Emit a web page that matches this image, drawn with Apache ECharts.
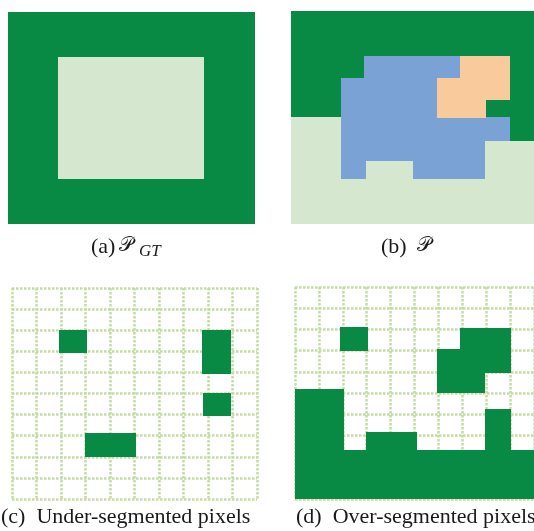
<!DOCTYPE html>
<html><head><meta charset="utf-8">
<script src="https://cdn.jsdelivr.net/npm/echarts@6/dist/echarts.min.js"></script>
<style>html,body{margin:0;padding:0;background:#fff}#c{width:534px;height:531px}</style>
</head><body><div id="c"></div>
<script>
// Region classes and their colours
const classNames = ['background', 'object', 'segment1', 'segment2', 'error'];
const classColors = ['#088a45', '#d5e8cf', '#7aa2d4', '#f8ca9c', '#088a45'];

// Each rectangle: [x0, y0, x1, y1, class] in grid-cell units (10 x 10 cells, y counted downward)
const panelA = [
  [0, 0, 10, 10, 'background'],
  [2.01, 2.12, 7.93, 7.86, 'object']
];
const panelB = [
  [0, 0, 10, 10, 'background'],
  [0, 4.99, 2.07, 10, 'object'],
  [0, 7.89, 10, 10, 'object'],
  [7.97, 6.12, 10, 10, 'object'],
  [3.01, 2.11, 6.97, 3.16, 'segment1'],
  [2.06, 3.13, 6.02, 7.89, 'segment1'],
  [6.02, 5.0, 7.97, 7.89, 'segment1'],
  [7.97, 4.99, 9.02, 6.12, 'segment1'],
  [3.08, 7.06, 5.0, 7.89, 'object'],
  [6.97, 2.13, 9.02, 3.16, 'segment2'],
  [6.02, 3.16, 9.02, 4.18, 'segment2'],
  [6.02, 4.18, 8.04, 5.01, 'segment2']
];
const panelC = [
  [1.91, 2.01, 3.07, 3.09, 'error'],
  [7.76, 2.01, 8.92, 4.07, 'error'],
  [7.8, 4.96, 8.94, 6.05, 'error'],
  [2.96, 6.89, 5.06, 8.0, 'error']
];
const panelD = [
  [1.9, 1.89, 3.06, 3.04, 'error'],
  [6.91, 1.93, 9.05, 4.06, 'error'],
  [5.96, 2.91, 6.95, 5.0, 'error'],
  [6.9, 4.0, 7.96, 5.0, 'error'],
  [0, 4.8, 2.04, 10, 'error'],
  [0, 7.71, 10, 10, 'error'],
  [2.97, 6.84, 5.1, 10, 'error'],
  [7.96, 5.74, 9.05, 10, 'error']
];
const gridCells = 10;
const captions = ['(a)', '(b)', '(c)  Under-segmented pixels', '(d)  Over-segmented pixels'];

const panels = [panelA, panelB, panelC, panelD];
const showGridLines = [false, false, true, true];
const grids = [
  {left: 8, top: 12, width: 247, height: 212},
  {left: 291, top: 11, width: 247, height: 213},
  {left: 12, top: 288, width: 245, height: 211},
  {left: 295, top: 287, width: 245, height: 212}
];

const dashStyle = {color: '#c4dba3', width: 2.5, type: [2.5, 1.5]};
function axis(i) {
  return {
    gridIndex: i, type: 'value', min: 0, max: gridCells, interval: 1,
    axisLine: {show: false}, axisTick: {show: false}, axisLabel: {show: false},
    splitLine: {show: showGridLines[i], lineStyle: dashStyle}
  };
}
const xAxes = panels.map((p, i) => axis(i));
const yAxes = panels.map((p, i) => Object.assign(axis(i), {inverse: true}));

const series = panels.map((rects, i) => ({
  type: 'custom',
  coordinateSystem: 'cartesian2d',
  xAxisIndex: i, yAxisIndex: i,
  silent: true,
  data: rects.map(r => ({
    value: r.slice(0, 4),
    itemStyle: {color: classColors[classNames.indexOf(r[4])]}
  })),
  renderItem: function (params, api) {
    const p0 = api.coord([api.value(0), api.value(1)]).map(Math.round);
    const p1 = api.coord([api.value(2), api.value(3)]).map(Math.round);
    return {
      type: 'rect',
      shape: {x: p0[0], y: p0[1], width: p1[0] - p0[0], height: p1[1] - p0[1]},
      style: {fill: api.visual('color')}
    };
  }
}));

const serif = '"Liberation Serif", serif';
const script = '"DejaVu Serif", "DejaVu Sans", serif';
const txt = '#1a1a1a';
function t(x, y, text, font) {
  return {type: 'text', x: x, y: y, silent: true,
    style: {text: text, font: font, fill: txt, verticalAlign: 'middle'}};
}
const graphic = [
  t(91, 247, captions[0], '22px ' + serif),
  t(119, 246, '𝒫', '20px ' + script),
  t(139, 252, 'GT', 'italic 17px ' + serif),
  t(381, 247, captions[1], '22px ' + serif),
  t(417, 246, '𝒫', '20px ' + script),
  t(1, 517, captions[2], '22px ' + serif),
  t(296, 517, captions[3], '22px ' + serif)
];

const chart = echarts.init(document.getElementById('c'), null, {renderer: 'canvas'});
chart.setOption({
  animation: false,
  backgroundColor: '#ffffff',
  grid: grids,
  xAxis: xAxes,
  yAxis: yAxes,
  series: series,
  graphic: graphic
});
</script>
</body></html>
